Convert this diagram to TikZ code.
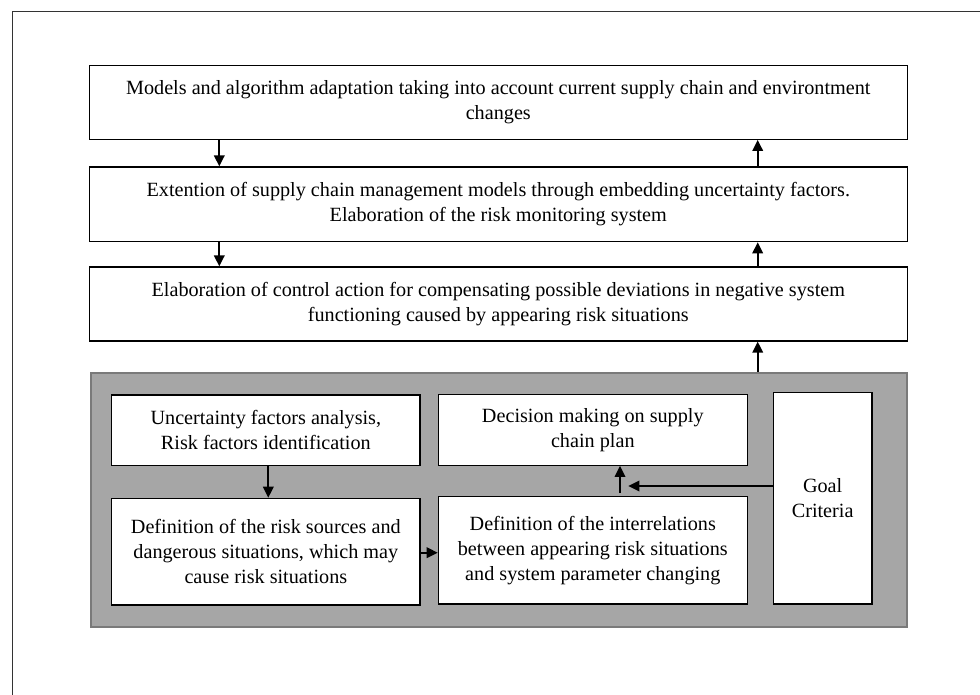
\documentclass[tikz,border=0pt]{standalone}
\usepackage{fontspec}
\setmainfont{Liberation Serif}
\usetikzlibrary{arrows.meta}
\definecolor{grayfill}{HTML}{A6A6A6}
\definecolor{grayline}{HTML}{7A7A7A}
\tikzset{
  box/.style={draw=black, line width=1.2pt, fill=white, inner sep=0pt, align=center,
    font=\fontsize{20.2}{25}\selectfont},
  arr/.style={line width=1.8pt, -{Triangle[length=11pt,width=10.5pt]}},
}
\begin{document}
\begin{tikzpicture}[x=1pt,y=-1pt]
\useasboundingbox (0,0) rectangle (980,695);
\fill[white] (0,0) rectangle (980,695);
\coordinate (fl) at (12,695);
\coordinate (fc) at (12,12);
\coordinate (fr) at (980,12);
\draw[line width=1pt, black!80] (fl) -- (fc) -- (fr);

\node[box, minimum width=818pt, minimum height=73.6pt] (b1) at (498.3,102.5)
  {Models and algorithm adaptation taking into account current supply chain and environtment\\changes};
\node[box, minimum width=818pt, minimum height=74.7pt] (b2) at (498.3,204.35)
  {Extention of supply chain management models through embedding uncertainty factors.\\Elaboration of the risk monitoring system};
\node[box, minimum width=818pt, minimum height=74pt] (b3) at (498.3,304)
  {Elaboration of control action for compensating possible deviations in negative system\\functioning caused by appearing risk situations};

\node[draw=grayline, fill=grayfill, line width=1.8pt, minimum width=816.6pt, minimum height=254pt, inner sep=0pt] (g) at (499,499.7) {};

\node[box, minimum width=308.3pt, minimum height=70.3pt] (uf) at (265.85,430.15)
  {Uncertainty factors analysis,\\Risk factors identification};
\node[box, minimum width=308.3pt, minimum height=106.7pt] (def) at (265.85,551.65)
  {Definition of the risk sources and\\dangerous situations, which may\\cause risk situations};
\node[box, minimum width=309pt, minimum height=71pt] (dec) at (592.8,429.8)
  {Decision making on supply\\chain plan};
\node[box, minimum width=309pt, minimum height=107.3pt] (inter) at (592.8,550.35)
  {Definition of the interrelations\\between appearing risk situations\\and system parameter changing};
\node[box, minimum width=98.7pt, minimum height=211.3pt] (goal) at (822.65,498.35)
  {Goal\\Criteria};

\coordinate (dx) at (219.3,0);
\coordinate (ux) at (757.7,0);
\draw[arr] (b1.south -| dx) -- (b2.north -| dx);
\draw[arr] (b2.south -| dx) -- (b3.north -| dx);
\draw[arr] (b2.north -| ux) -- (b1.south -| ux);
\draw[arr] (b3.north -| ux) -- (b2.south -| ux);
\draw[arr] (g.north -| ux) -- (b3.south -| ux);

\coordinate (ufx) at (268.3,0);
\draw[arr] (uf.south -| ufx) -- (def.north -| ufx);
\coordinate (dy) at (0,552.7);
\draw[arr] (def.east |- dy) -- (inter.west |- dy);
\coordinate (ia) at (620,493);
\draw[arr] (ia) -- (ia |- dec.south);
\coordinate (gy) at (0,486);
\coordinate (gend) at (628.3,486);
\draw[arr] (goal.west |- gy) -- (gend);
\end{tikzpicture}
\end{document}
